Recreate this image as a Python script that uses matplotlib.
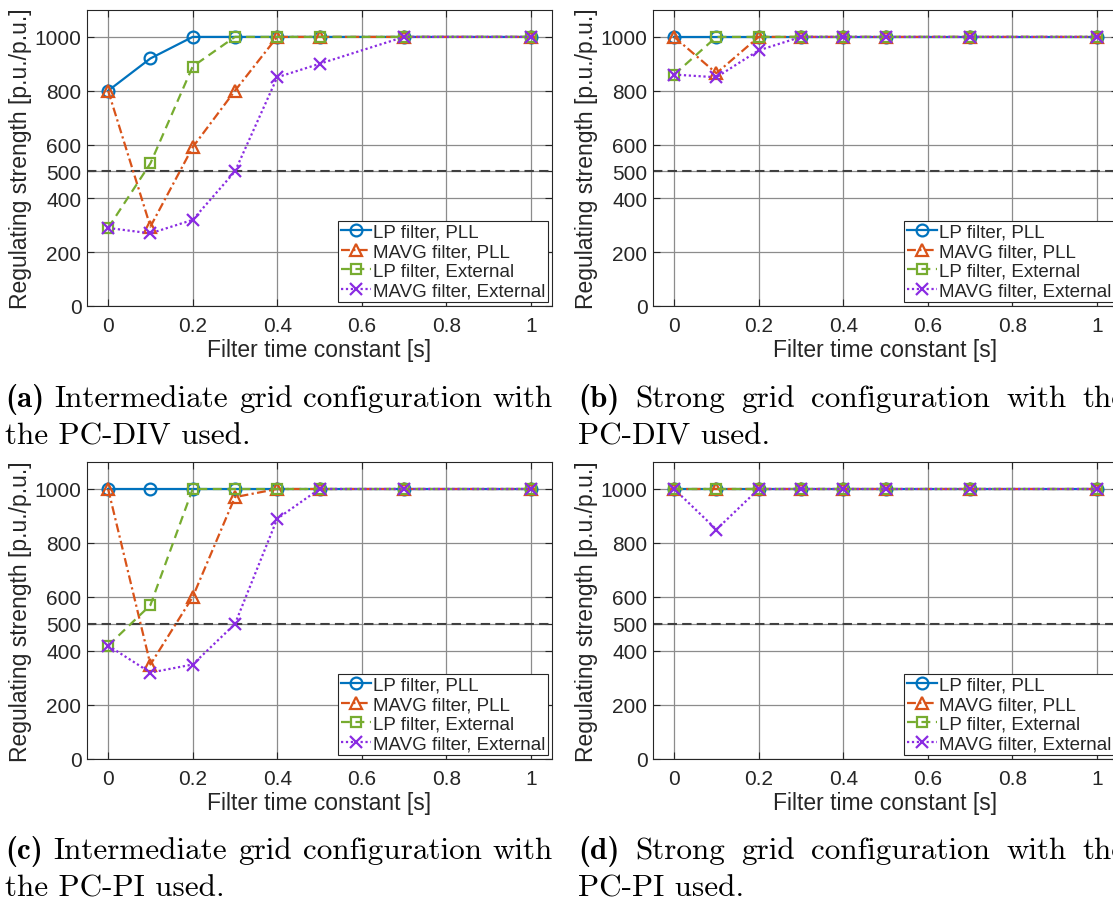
import matplotlib
matplotlib.use("Agg")
from matplotlib import pyplot as plt
from matplotlib.transforms import IdentityTransform

plt.rcParams["font.family"] = "Liberation Sans"

# figure size in pixels (dpi 100)
W, H = 1113, 904

# filter time constants [s]
FILTER_TC = [0, 0.1, 0.2, 0.3, 0.4, 0.5, 0.7, 1.0]

# (a) intermediate grid, PC-DIV
A_LP_PLL = [800, 920, 1000, 1000, 1000, 1000, 1000, 1000]
A_MAVG_PLL = [800, 295, 590, 800, 1000, 1000, 1000, 1000]
A_LP_EXT = [290, 530, 890, 1000, 1000, 1000, 1000, 1000]
A_MAVG_EXT = [290, 270, 320, 500, 850, 900, 1000, 1000]

# (b) strong grid, PC-DIV
B_LP_PLL = [1000, 1000, 1000, 1000, 1000, 1000, 1000, 1000]
B_MAVG_PLL = [1000, 865, 1000, 1000, 1000, 1000, 1000, 1000]
B_LP_EXT = [860, 1000, 1000, 1000, 1000, 1000, 1000, 1000]
B_MAVG_EXT = [860, 850, 950, 1000, 1000, 1000, 1000, 1000]

# (c) intermediate grid, PC-PI
C_LP_PLL = [1000, 1000, 1000, 1000, 1000, 1000, 1000, 1000]
C_MAVG_PLL = [1000, 350, 600, 970, 1000, 1000, 1000, 1000]
C_LP_EXT = [420, 570, 1000, 1000, 1000, 1000, 1000, 1000]
C_MAVG_EXT = [420, 320, 350, 500, 890, 1000, 1000, 1000]

# (d) strong grid, PC-PI
D_LP_PLL = [1000, 1000, 1000, 1000, 1000, 1000, 1000, 1000]
D_MAVG_PLL = [1000, 1000, 1000, 1000, 1000, 1000, 1000, 1000]
D_LP_EXT = [1000, 1000, 1000, 1000, 1000, 1000, 1000, 1000]
D_MAVG_EXT = [1000, 850, 1000, 1000, 1000, 1000, 1000, 1000]

THRESHOLD = 500

SERIES_LABELS = ["LP filter, PLL", "MAVG filter, PLL",
                 "LP filter, External", "MAVG filter, External"]
COLORS = ["#0072BD", "#D95319", "#77AC30", "#8A2BE2"]
LINESTYLES = ["-", (0, (4, 1.5, 1, 1.5)), (0, (4, 2.5)), (0, (1, 1.2))]
MARKERS = ["o", "^", "s", "x"]
MARKER_SIZES = [8.5, 9, 7.5, 9]

X_TICKS = [0, 0.2, 0.4, 0.6, 0.8, 1]
Y_TICKS = [0, 200, 400, 500, 600, 800, 1000]

CAPTIONS = [
    ("(a)", "Intermediate grid configuration with", "the PC-DIV used."),
    ("(b)", "Strong grid configuration with the", "PC-DIV used."),
    ("(c)", "Intermediate grid configuration with", "the PC-PI used."),
    ("(d)", "Strong grid configuration with the", "PC-PI used."),
]
CAPTION_WIDTH = 548

# axes boxes in pixels: left, top, right, bottom
BOXES = [(87, 11, 552, 307), (653, 11, 1118, 307),
         (87, 463, 552, 760), (653, 463, 1118, 760)]
CAPTION_POS = [(5, 407, 445), (578, 407, 445), (5, 859, 897), (578, 859, 897)]


def draw_panel(ax, series):
    for vals, label, color, ls, mk, ms in zip(series, SERIES_LABELS, COLORS,
                                              LINESTYLES, MARKERS, MARKER_SIZES):
        ax.plot(FILTER_TC, vals, color=color, linestyle=ls, marker=mk,
                markersize=ms, markerfacecolor="none", markeredgewidth=1.6,
                linewidth=1.6, label=label, zorder=3)
    ax.axhline(THRESHOLD, color="#404040", linestyle=(0, (4.5, 2.5)),
               linewidth=1.5, zorder=2)

    ax.set_xlim(-0.05, 1.05)
    ax.set_ylim(0, 1100)
    ax.set_xticks(X_TICKS)
    ax.set_xticklabels(["0", "0.2", "0.4", "0.6", "0.8", "1"])
    ax.set_yticks(Y_TICKS)
    ax.grid(True, color="#8c8c8c", linewidth=0.9)
    ax.set_axisbelow(True)
    ax.tick_params(direction="in", length=5, width=0.8, colors="#262626",
                   labelsize=15, top=True, right=True)
    ax.tick_params(axis="x", pad=7)
    ax.tick_params(axis="y", pad=4)
    for sp in ax.spines.values():
        sp.set_color("#262626")
        sp.set_linewidth(0.8)

    ax.set_xlabel("Filter time constant [s]", fontsize=16.5, color="#262626")
    ax.set_ylabel("Regulating strength [p.u./p.u.]", fontsize=16.5,
                  color="#262626")
    ax.xaxis.label.set_va("center")
    ax.yaxis.label.set_va("center")
    ax.xaxis.set_label_coords(0.5, -0.148)
    ax.yaxis.set_label_coords(-0.144, 0.5)

    leg = ax.legend(loc="lower right", fontsize=13.5, handlelength=1.6,
                    handletextpad=0.1, labelspacing=0.12, borderpad=0.15,
                    borderaxespad=0.22, fancybox=False, framealpha=1)
    leg.get_frame().set_edgecolor("#262626")
    leg.get_frame().set_linewidth(0.8)
    for t in leg.get_texts():
        t.set_color("#262626")


def text_width(fig, renderer, s, family, size):
    t = fig.text(0, 0, s, family=family, fontsize=size)
    w = t.get_window_extent(renderer).width
    t.remove()
    return w


def caption_size(fig, renderer):
    # font size at which the first caption line sets with plain word spaces
    tag, line1, _ = CAPTIONS[0]
    ref = 20
    space = (text_width(fig, renderer, "x x", "cmr10", ref)
             - text_width(fig, renderer, "xx", "cmr10", ref))
    natural = (text_width(fig, renderer, tag, "cmb10", ref) + space
               + text_width(fig, renderer, line1, "cmr10", ref))
    return ref * CAPTION_WIDTH / natural


def draw_caption(fig, renderer, size, left, base1, base2, tag, line1, line2):
    # first line is justified to the column width, second one left aligned
    words = [(tag, "cmb10")] + [(w, "cmr10") for w in line1.split()]
    texts = [fig.text(0, 0, w, family=fam, fontsize=size,
                      va="baseline", transform=IdentityTransform())
             for w, fam in words]
    widths = [t.get_window_extent(renderer).width for t in texts]
    gap = (CAPTION_WIDTH - sum(widths)) / (len(texts) - 1)
    x = left
    for t, w in zip(texts, widths):
        t.set_position((x, H - base1))
        x += w + gap
    fig.text(left, H - base2, line2, family="cmr10", fontsize=size,
             va="baseline", transform=IdentityTransform())


def main():
    fig = plt.figure(figsize=(W / 100, H / 100), dpi=100)
    panels = [
        [A_LP_PLL, A_MAVG_PLL, A_LP_EXT, A_MAVG_EXT],
        [B_LP_PLL, B_MAVG_PLL, B_LP_EXT, B_MAVG_EXT],
        [C_LP_PLL, C_MAVG_PLL, C_LP_EXT, C_MAVG_EXT],
        [D_LP_PLL, D_MAVG_PLL, D_LP_EXT, D_MAVG_EXT],
    ]
    for (l, t, r, b), series in zip(BOXES, panels):
        ax = fig.add_axes([l / W, 1 - b / H, (r - l) / W, (b - t) / H])
        draw_panel(ax, series)

    renderer = fig.canvas.get_renderer()
    size = caption_size(fig, renderer)
    for (left, b1, b2), (tag, line1, line2) in zip(CAPTION_POS, CAPTIONS):
        draw_caption(fig, renderer, size, left, b1, b2, tag, line1, line2)

    fig.savefig("out.png", dpi=100)


if __name__ == "__main__":
    main()
